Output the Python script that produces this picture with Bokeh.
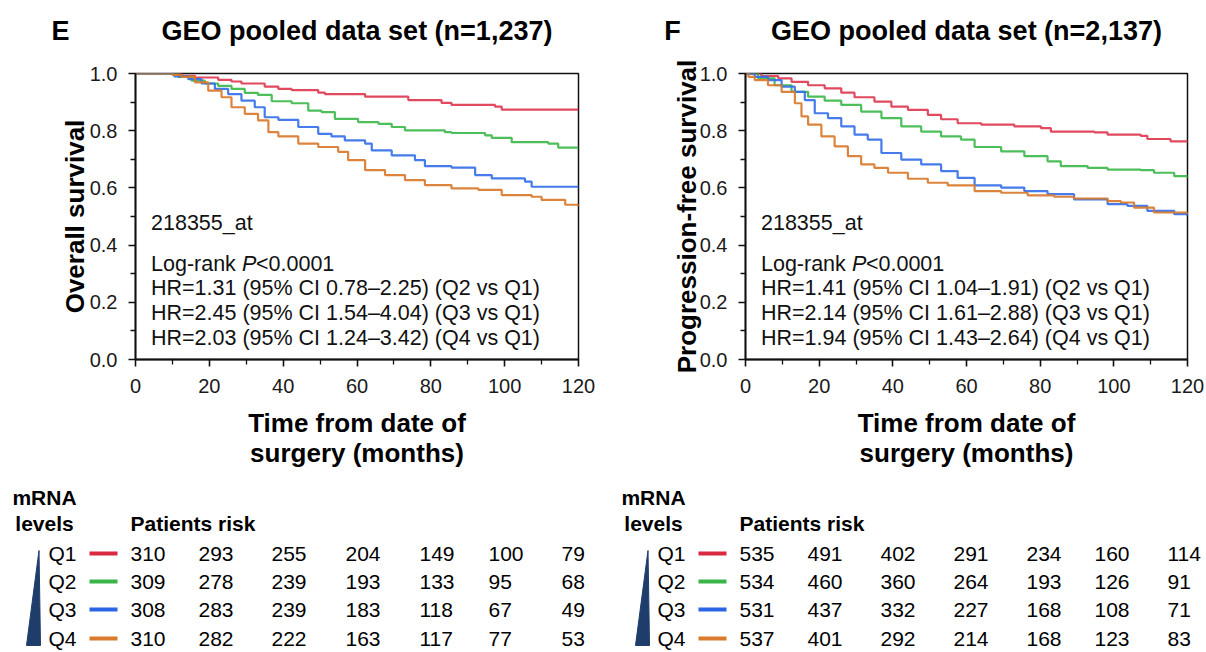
from bokeh.plotting import figure
from bokeh.models import Range1d, FixedTicker, NumeralTickFormatter
from bokeh.layouts import row, column
from bokeh.embed import file_html
from bokeh.resources import INLINE
from bokeh.core.properties import value

FONT = "Liberation Sans"

# ---------------- data ----------------
groups = ["Q1", "Q2", "Q3", "Q4"]
colors = ["#d8293f", "#3bb54a", "#2a66e4", "#d97a2c"]
curve_colors = ["#de3a50", "#3db84c", "#3570e8", "#d97a2c"]
wedge_color = "#1f3d6b"

x_ticks = [0, 20, 40, 60, 80, 100, 120]
x_minor = [10, 30, 50, 70, 90, 110]
y_ticks = [0.0, 0.2, 0.4, 0.6, 0.8, 1.0]
y_minor = [0.1, 0.3, 0.5, 0.7, 0.9]

# Overall survival (panel E)
os_q1_t = [0, 12.5, 16.1, 22.4, 26.0, 28.7, 35.0, 38.7, 42.3, 49.5, 51.3, 62.2, 73.9, 82.9, 85.6, 97.4, 99.2, 120]
os_q1_s = [1.0, 0.992, 0.986, 0.978, 0.972, 0.965, 0.954, 0.946, 0.942, 0.933, 0.928, 0.919, 0.907, 0.897, 0.890, 0.884, 0.874, 0.874]
os_q2_t = [0, 11.6, 15.2, 18.8, 22.4, 26.0, 29.6, 33.2, 36.9, 42.3, 46.8, 50.4, 54.0, 60.3, 65.8, 69.4, 73.0, 83.8, 85.6, 94.7, 96.5, 101.9, 111.8, 114.5, 120]
os_q2_s = [1.0, 0.988, 0.975, 0.965, 0.957, 0.946, 0.932, 0.925, 0.903, 0.896, 0.870, 0.865, 0.841, 0.830, 0.824, 0.813, 0.801, 0.795, 0.792, 0.784, 0.775, 0.760, 0.755, 0.741, 0.741]
os_q3_t = [0, 10.5, 14.3, 17.9, 21.5, 25.1, 28.7, 32.3, 35.0, 38.7, 44.1, 49.5, 53.1, 56.7, 62.2, 64.0, 69.4, 75.7, 78.4, 85.6, 92.0, 96.5, 105.5, 107.3, 120]
os_q3_s = [1.0, 0.990, 0.980, 0.965, 0.946, 0.928, 0.905, 0.882, 0.847, 0.838, 0.813, 0.789, 0.780, 0.766, 0.755, 0.731, 0.714, 0.697, 0.676, 0.671, 0.645, 0.633, 0.622, 0.604, 0.604]
os_q4_t = [0, 10.0, 12.5, 16.1, 19.7, 23.3, 26.0, 29.6, 33.2, 36.0, 38.7, 44.1, 49.5, 54.9, 57.6, 62.2, 67.6, 73.0, 78.4, 85.6, 92.9, 99.2, 107.3, 110.0, 116.4, 120]
os_q4_s = [1.0, 0.995, 0.988, 0.969, 0.940, 0.917, 0.882, 0.859, 0.836, 0.795, 0.780, 0.755, 0.743, 0.726, 0.697, 0.662, 0.645, 0.627, 0.610, 0.598, 0.593, 0.575, 0.569, 0.558, 0.541, 0.535]

# Progression-free survival (panel F)
pfs_q1_t = [0, 4.3, 8.9, 12.5, 17.0, 21.5, 26.0, 29.6, 35.0, 39.6, 44.1, 49.5, 53.1, 57.6, 64.0, 73.0, 80.2, 82.9, 94.7, 98.3, 107.3, 109.1, 115.4, 120]
pfs_q1_s = [1.0, 0.991, 0.983, 0.971, 0.959, 0.948, 0.933, 0.917, 0.902, 0.884, 0.873, 0.855, 0.840, 0.826, 0.821, 0.815, 0.809, 0.797, 0.794, 0.786, 0.782, 0.771, 0.763, 0.759]
pfs_q2_t = [0, 3.4, 7.9, 12.5, 17.0, 21.5, 26.0, 31.4, 36.9, 42.3, 47.7, 53.1, 58.5, 62.2, 69.4, 75.7, 82.0, 85.6, 92.9, 98.3, 107.3, 110.9, 116.4, 120]
pfs_q2_s = [1.0, 0.983, 0.959, 0.936, 0.919, 0.905, 0.890, 0.867, 0.844, 0.815, 0.797, 0.780, 0.769, 0.743, 0.728, 0.711, 0.693, 0.676, 0.670, 0.664, 0.662, 0.653, 0.641, 0.635]
pfs_q3_t = [0, 2.5, 6.1, 9.8, 13.4, 16.1, 18.8, 22.4, 26.0, 29.6, 33.2, 36.9, 42.3, 47.7, 53.1, 57.6, 62.2, 69.4, 75.7, 82.0, 89.2, 98.3, 103.7, 109.1, 116.4, 120]
pfs_q3_s = [1.0, 0.988, 0.977, 0.954, 0.936, 0.907, 0.861, 0.844, 0.815, 0.786, 0.769, 0.722, 0.699, 0.682, 0.659, 0.635, 0.609, 0.601, 0.589, 0.578, 0.560, 0.543, 0.537, 0.520, 0.508, 0.502]
pfs_q4_t = [0, 0.8, 2.5, 6.1, 9.8, 13.4, 15.2, 17.0, 20.6, 24.2, 27.8, 31.4, 35.0, 38.7, 44.1, 49.5, 54.9, 62.2, 69.4, 76.6, 83.8, 89.2, 98.3, 101.9, 105.5, 110.9, 120]
pfs_q4_s = [1.0, 0.988, 0.977, 0.959, 0.936, 0.896, 0.850, 0.821, 0.780, 0.745, 0.711, 0.682, 0.670, 0.653, 0.632, 0.618, 0.609, 0.589, 0.583, 0.574, 0.569, 0.563, 0.554, 0.549, 0.531, 0.514, 0.508]

# numbers at risk
os_risk_q1 = [310, 293, 255, 204, 149, 100, 79]
os_risk_q2 = [309, 278, 239, 193, 133, 95, 68]
os_risk_q3 = [308, 283, 239, 183, 118, 67, 49]
os_risk_q4 = [310, 282, 222, 163, 117, 77, 53]
pfs_risk_q1 = [535, 491, 402, 291, 234, 160, 114]
pfs_risk_q2 = [534, 460, 360, 264, 193, 126, 91]
pfs_risk_q3 = [531, 437, 332, 227, 168, 108, 71]
pfs_risk_q4 = [537, 401, 292, 214, 168, 123, 83]

os_stats = ["HR=1.31 (95% CI 0.78\u20132.25) (Q2 vs Q1)",
            "HR=2.45 (95% CI 1.54\u20134.04) (Q3 vs Q1)",
            "HR=2.03 (95% CI 1.24\u20133.42) (Q4 vs Q1)"]
pfs_stats = ["HR=1.41 (95% CI 1.04\u20131.91) (Q2 vs Q1)",
             "HR=2.14 (95% CI 1.61\u20132.88) (Q3 vs Q1)",
             "HR=1.94 (95% CI 1.43\u20132.64) (Q4 vs Q1)"]
probe = "218355_at"

# ---------------- layout constants (page pixels) ----------------
HEAD_H = 58
KM_H = 412
FRAME_TOP = 15
FRAME_H = 288
TAB_H = 182


def blank(x_start, width, y_top, height):
    p = figure(width=width, height=height, x_range=Range1d(x_start, x_start + width),
               y_range=Range1d(y_top + height, y_top), output_backend="svg", toolbar_location=None,
               x_axis_type=None, y_axis_type=None, min_border=0)
    p.grid.visible = False
    p.outline_line_color = None
    p.background_fill_color = "white"
    p.border_fill_color = "white"
    return p


def header_figure(x_start, width, letter, letter_x, title, title_x):
    p = blank(x_start, width, 0, HEAD_H)
    st = dict(text_font=value(FONT), text_font_size="27px", text_font_style="bold",
              text_baseline="middle", text_align="center", text_color="black")
    p.text(x=[letter_x], y=[30], text=[letter], **st)
    p.text(x=[title_x], y=[30], text=[title], **st)
    return p


def km_figure(width, border_left, frame_w, ts, ss, ylabel, stats, ylabel_standoff):
    border_right = width - border_left - frame_w
    p = figure(width=width, height=KM_H, x_range=Range1d(0, 120), y_range=Range1d(0, 1),
               output_backend="svg", toolbar_location=None,
               min_border_left=border_left, min_border_right=border_right,
               min_border_top=FRAME_TOP, min_border_bottom=KM_H - FRAME_TOP - FRAME_H)
    p.grid.visible = False
    p.background_fill_color = "white"
    p.border_fill_color = "white"
    p.outline_line_color = "#111111"
    p.outline_line_width = 1.5
    p.outline_line_alpha = 1.0

    for t, s, c in zip(ts, ss, curve_colors):
        p.step(t, s, mode="after", line_color=c, line_width=2.2, line_alpha=0.92)

    p.xaxis.ticker = FixedTicker(ticks=x_ticks, minor_ticks=x_minor)
    p.yaxis.ticker = FixedTicker(ticks=y_ticks, minor_ticks=y_minor)
    p.yaxis.formatter = NumeralTickFormatter(format="0.0")
    for ax in (p.xaxis, p.yaxis):
        ax.axis_line_width = 1.8
        ax.axis_line_color = "#111111"
        ax.major_tick_line_color = "#111111"
        ax.minor_tick_line_color = "#111111"
        ax.major_tick_line_width = 1.6
        ax.minor_tick_line_width = 1.3
        ax.major_tick_out = 7
        ax.major_tick_in = 0
        ax.minor_tick_out = 5
        ax.minor_tick_in = 0
        ax.major_label_text_font = FONT
        ax.major_label_text_font_size = "20px"
        ax.major_label_text_color = "#1a1a1a"
        ax.axis_label_text_font = FONT
        ax.axis_label_text_font_style = "bold"
        ax.axis_label_text_font_size = "26px"
        ax.axis_label_text_color = "black"
    p.xaxis.major_label_standoff = 12
    p.yaxis.major_label_standoff = 11
    p.yaxis.axis_label = ylabel
    p.yaxis.axis_label_standoff = ylabel_standoff
    p.xaxis.axis_label = "Time from date of\nsurgery (months)"
    p.xaxis.axis_label_text_line_height = 1.0
    p.xaxis.axis_label_standoff = 12

    # statistics inside the plot
    x0 = 4.2
    txt = dict(text_font=value(FONT), text_font_size="21.5px", text_baseline="middle",
               text_align="left", text_color="#111111")
    p.text(x=[x0], y=[0.476], text=[probe], **txt)
    p.text(x=[x0], y=[0.335], text=["Log-rank"], **txt)
    p.text(x=[x0], y=[0.335], text=["P"], x_offset=91, text_font_style="italic", **txt)
    p.text(x=[x0], y=[0.335], text=["<0.0001"], x_offset=105, **txt)
    p.text(x=[x0] * 3, y=[0.249, 0.161, 0.074], text=stats, **txt)
    return p


def risk_figure(x_start, width, risks, col_x, q_x, seg_x0, seg_x1, levels_x, patients_x, wedge_x):
    p = blank(x_start, width, HEAD_H + KM_H, TAB_H)
    bold = dict(text_font=value(FONT), text_font_size="21px", text_font_style="bold",
                text_baseline="middle", text_color="black")
    reg = dict(text_font=value(FONT), text_font_size="21px", text_baseline="middle",
               text_color="black", text_align="left")
    p.text(x=[levels_x, levels_x], y=[497, 523], text=["mRNA", "levels"], text_align="center", **bold)
    p.text(x=[patients_x], y=[523], text=["Patients risk"], text_align="left", **bold)
    row_y = [553, 581, 609, 638]
    p.text(x=[q_x] * 4, y=row_y, text=groups, **reg)
    p.segment(x0=[seg_x0] * 4, y0=row_y, x1=[seg_x1] * 4, y1=row_y, line_color=colors, line_width=4)
    for vals, y in zip(risks, row_y):
        p.text(x=col_x, y=[y] * len(vals), text=[str(v) for v in vals], **reg)
    p.patch(x=wedge_x, y=[645, 645, 550], fill_color=wedge_color, line_color=wedge_color, line_width=1)
    return p


LW, RW = 606, 600

left_head = header_figure(0, LW, "E", 60, "GEO pooled data set (n=1,237)", 356.5)
right_head = header_figure(LW, RW, "F", 672, "GEO pooled data set (n=2,137)", 966)

left = km_figure(LW, 135, 443,
                 [os_q1_t, os_q2_t, os_q3_t, os_q4_t], [os_q1_s, os_q2_s, os_q3_s, os_q4_s],
                 "Overall survival", os_stats, -3)
right = km_figure(RW, 139, 442,
                  [pfs_q1_t, pfs_q2_t, pfs_q3_t, pfs_q4_t], [pfs_q1_s, pfs_q2_s, pfs_q3_s, pfs_q4_s],
                  "Progression-free survival", pfs_stats, -5)

left_tab = risk_figure(0, LW, [os_risk_q1, os_risk_q2, os_risk_q3, os_risk_q4],
                       [130, 198, 271, 345, 419, 488, 561], 48, 89, 117, 44, 130, [26, 40, 38.5])
right_tab = risk_figure(LW, RW, [pfs_risk_q1, pfs_risk_q2, pfs_risk_q3, pfs_risk_q4],
                        [739, 807, 880, 953, 1026, 1094, 1167], 657, 698, 726, 653, 739, [635, 649, 647.5])

layout = column(row(left_head, right_head), row(left, right), row(left_tab, right_tab))

open("out.html", "w").write(file_html(layout, INLINE))
